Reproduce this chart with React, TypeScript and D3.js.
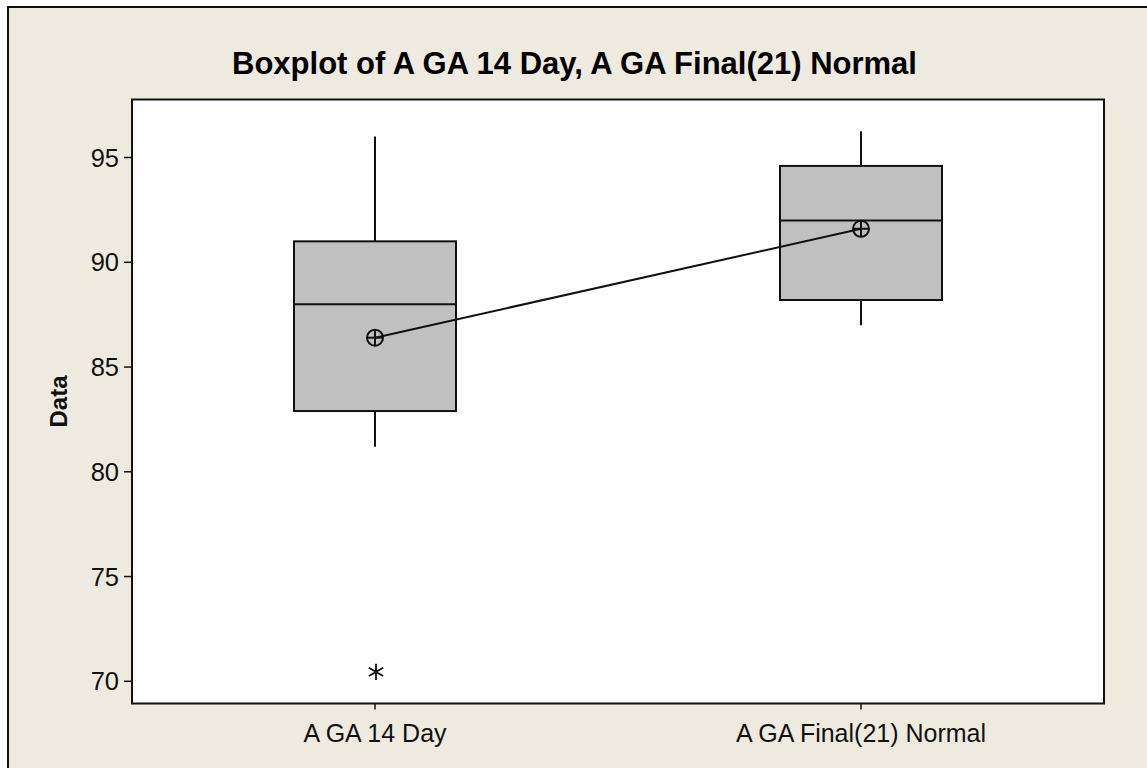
import React from "react";
import * as d3 from "d3";

// Summary statistics for each group
const categories = ["A GA 14 Day", "A GA Final(21) Normal"];
const whiskerLow = [81.2, 87.0];
const q1 = [82.9, 88.2];
const median = [88.0, 92.0];
const q3 = [91.0, 94.6];
const whiskerHigh = [96.0, 96.25];
const means = [86.4, 91.6];
const outliers: number[][] = [[70.45], []];

const yTicks = [70, 75, 80, 85, 90, 95];
const yDomain = [68.94, 97.77];

const title = "Boxplot of A GA 14 Day, A GA Final(21) Normal";
const yLabel = "Data";

const W = 1147;
const H = 768;
const plot = { left: 132, top: 99.5, right: 1104, bottom: 703.5 };
const FONT = "'Liberation Sans', Arial, sans-serif";

export default function App() {
  const x = d3
    .scalePoint<string>()
    .domain(categories)
    .range([plot.left, plot.right])
    .padding(0.5);
  const y = d3.scaleLinear().domain(yDomain).range([plot.bottom, plot.top]);
  const boxW = (plot.right - plot.left) / 6;

  const line = d3
    .line<number>()
    .x((_, i) => x(categories[i]) as number)
    .y((d) => y(d));

  const star = d3.symbol().type(d3.symbolAsterisk).size(190)();

  return (
    <svg
      width={W}
      height={H}
      style={{ position: "absolute", left: 0, top: 0, background: "#fff" }}
      fontFamily={FONT}
    >
      <rect x={8} y={7} width={W + 20} height={H + 20} fill="#eeeae0" stroke="#111" strokeWidth={2} />
      <rect
        x={plot.left}
        y={plot.top}
        width={plot.right - plot.left}
        height={plot.bottom - plot.top}
        fill="#fff"
        stroke="#111"
        strokeWidth={2}
      />
      <text x={574.5} y={74} textAnchor="middle" fontSize={31} fontWeight="bold" fill="#000">
        {title}
      </text>

      {/* y axis */}
      {yTicks.map((t) => (
        <g key={t}>
          <line x1={plot.left - 8} x2={plot.left} y1={y(t)} y2={y(t)} stroke="#111" strokeWidth={1.5} />
          <text x={plot.left - 13} y={y(t)} dy="0.36em" textAnchor="end" fontSize={25.5} fill="#111">
            {t}
          </text>
        </g>
      ))}
      <text
        transform={`translate(67,${(plot.top + plot.bottom) / 2}) rotate(-90)`}
        textAnchor="middle"
        fontSize={24}
        fontWeight="bold"
        fill="#111"
      >
        {yLabel}
      </text>

      {/* x axis */}
      {categories.map((c) => (
        <g key={c}>
          <line x1={x(c)} x2={x(c)} y1={plot.bottom} y2={plot.bottom + 6} stroke="#111" strokeWidth={1.5} />
          <text x={x(c)} y={742} textAnchor="middle" fontSize={25} fill="#111">
            {c}
          </text>
        </g>
      ))}

      {/* boxes */}
      {categories.map((c, i) => {
        const cx = x(c) as number;
        return (
          <g key={c} stroke="#111">
            <line x1={cx} x2={cx} y1={y(whiskerHigh[i])} y2={y(q3[i])} strokeWidth={2} />
            <line x1={cx} x2={cx} y1={y(q1[i])} y2={y(whiskerLow[i])} strokeWidth={2} />
            <rect
              x={cx - boxW / 2}
              y={y(q3[i])}
              width={boxW}
              height={y(q1[i]) - y(q3[i])}
              fill="#c0c0c0"
              strokeWidth={2}
            />
            <line x1={cx - boxW / 2} x2={cx + boxW / 2} y1={y(median[i])} y2={y(median[i])} strokeWidth={2} />
            {outliers[i].map((o, k) => (
              <path key={k} d={star as string} transform={`translate(${cx + 1},${y(o)})`} fill="none" strokeWidth={1.8} />
            ))}
          </g>
        );
      })}

      {/* mean connect line */}
      <path d={line(means) as string} fill="none" stroke="#111" strokeWidth={2} />
      {means.map((m, i) => {
        const cx = x(categories[i]) as number;
        const cy = y(m);
        const r = 8;
        return (
          <g key={i} stroke="#111" strokeWidth={2} fill="none">
            <circle cx={cx} cy={cy} r={r} />
            <line x1={cx - r} x2={cx + r} y1={cy} y2={cy} />
            <line x1={cx} x2={cx} y1={cy - r} y2={cy + r} />
          </g>
        );
      })}
    </svg>
  );
}
